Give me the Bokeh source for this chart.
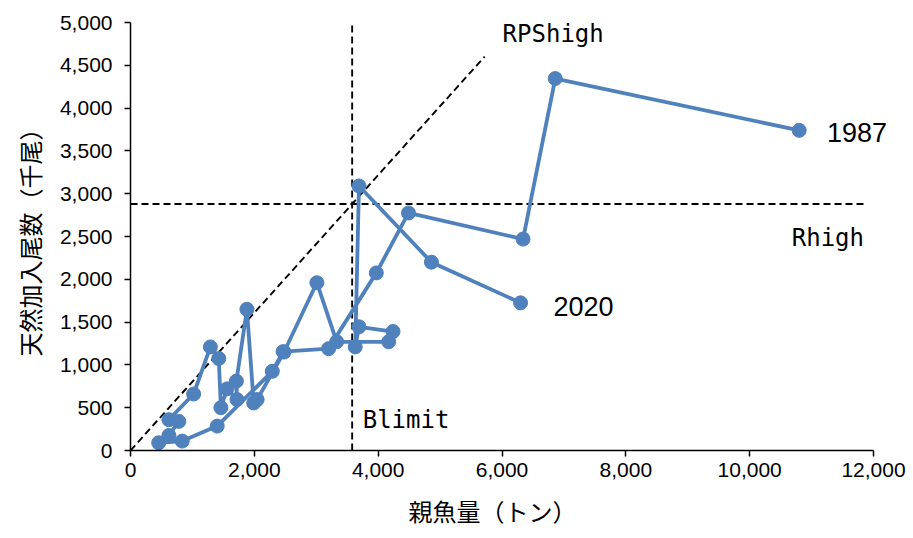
from bokeh.plotting import figure
from bokeh.models import Range1d, FixedTicker, NumeralTickFormatter, Title
from bokeh.core.properties import value
from bokeh.embed import file_html
from bokeh.resources import INLINE

# Data: spawning stock biomass (t) and recruitment (thousand fish), 1987-2020
years = list(range(1987, 2021))
ssb = [10800, 6860, 6340, 4490, 3970, 3200, 2465, 2290, 1400, 835,
       455, 620, 780, 620, 1020, 1290, 1425, 1460, 1560, 1720,
       1710, 1880, 1990, 2045, 2480, 3010, 3330, 4170, 4240, 3690,
       3630, 3690, 4860, 6300]
rec = [3740, 4345, 2470, 2775, 2075, 1190, 1155, 925, 285, 110,
       90, 175, 340, 360, 660, 1210, 1075, 500, 720, 595,
       810, 1650, 555, 595, 1150, 1960, 1270, 1270, 1390, 1445,
       1210, 3090, 2200, 1725]

# Reference points
blimit = 3580
rhigh = 2880
rhigh_xmax = 11900
rps_x = [0, 5720]
rps_y = [0, 5720 * rhigh / blimit]

x_ticks = [0, 2000, 4000, 6000, 8000, 10000, 12000]
y_ticks = [0, 500, 1000, 1500, 2000, 2500, 3000, 3500, 4000, 4500, 5000]

labels_text = ["1987", "2020"]
labels_x = [11250, 6830]
labels_y = [3720, 1680]

ref_text = ["RPShigh", "Rhigh", "Blimit"]
ref_x = [6010, 10680, 3750]
ref_y = [4870, 2480, 360]

x_title = "親魚量（トン）"
y_title = "天然加入尾数（千尾）"

BLUE = "#4F81BD"

p = figure(width=913, height=538, output_backend="svg", toolbar_location=None,
           x_range=Range1d(0, 12646), y_range=Range1d(0, 5000),
           min_border_left=130, min_border_right=0, min_border_top=22,
           min_border_bottom=87)
p.outline_line_color = None
p.xgrid.visible = False
p.ygrid.visible = False

# reference lines
dash = "7 4"
p.line([blimit, blimit], [0, 5000], line_color="black", line_width=1.9,
       line_dash=dash)
p.line([0, rhigh_xmax], [rhigh, rhigh], line_color="black", line_width=1.9,
       line_dash=dash)
p.line(rps_x, rps_y, line_color="black", line_width=1.9, line_dash=dash)

# trajectory
p.line(ssb, rec, line_color=BLUE, line_width=3.8)
p.scatter(ssb, rec, size=14, fill_color=BLUE, line_color=BLUE)

p.text(labels_x, labels_y, text=labels_text, text_font=value("Liberation Sans"),
       text_font_size="27px", text_align="left", text_baseline="middle",
       text_color="black")
p.text(ref_x, ref_y, text=ref_text, text_font=value("DejaVu Sans Mono"),
       text_font_size="24px", text_align="left", text_baseline="middle",
       text_color="black")

for ax in (p.xaxis[0], p.yaxis[0]):
    ax.axis_line_color = "black"
    ax.axis_line_width = 1.5
    ax.major_tick_line_color = "black"
    ax.major_tick_line_width = 1.5
    ax.major_tick_in = 0
    ax.major_tick_out = 6
    ax.minor_tick_line_color = None
    ax.major_label_text_font = "Liberation Sans"
    ax.major_label_text_font_size = "21px"
    ax.major_label_text_color = "black"
    ax.formatter = NumeralTickFormatter(format="0,0")
    ax.axis_label_text_font = "Noto Sans CJK JP"
    ax.axis_label_text_font_size = "24px"
    ax.axis_label_text_font_style = "normal"
    ax.axis_label_text_color = "black"

p.xaxis[0].ticker = FixedTicker(ticks=x_ticks)
p.xaxis[0].bounds = (0, 12000)
p.yaxis[0].ticker = FixedTicker(ticks=y_ticks)
p.yaxis[0].axis_label = y_title
p.xaxis[0].major_label_standoff = 6
p.yaxis[0].major_label_standoff = 12
p.yaxis[0].axis_label_standoff = 10

# x-axis title placed below the axis, centred under the 0-12000 span
p.add_layout(Title(text=x_title, align="left", offset=278, standoff=22,
                   text_font="Noto Sans CJK JP", text_font_size="24px",
                   text_font_style="normal", text_color="black"), "below")

open("out.html", "w").write(file_html(p, INLINE))
